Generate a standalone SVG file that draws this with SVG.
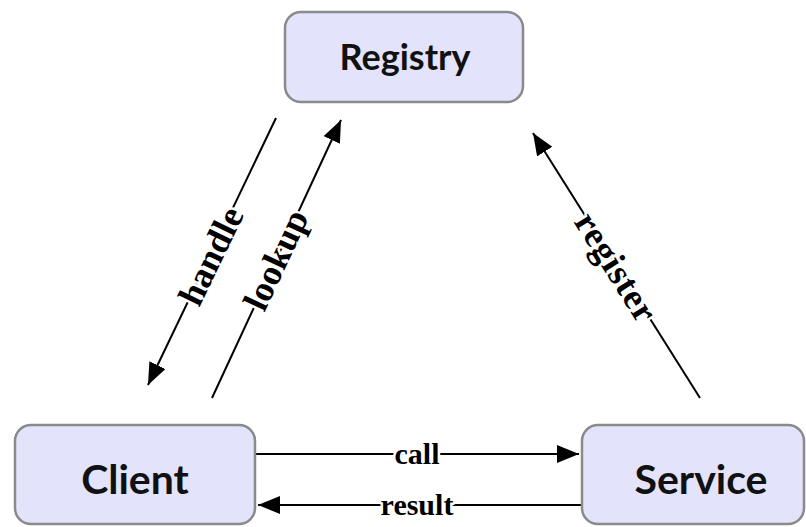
<svg xmlns="http://www.w3.org/2000/svg" width="806" height="527" viewBox="0 0 806 527">
  <style>
    .box { fill: #e3e3fb; stroke: #8a8a8a; stroke-width: 2.5; }
    .name { font-family: Lato, "Open Sans", "Liberation Sans", sans-serif; font-weight: bold; fill: #111; text-anchor: middle; }
    .wire { stroke: #000; stroke-width: 2; fill: none; }
    .lbl { font-family: "Liberation Serif", "Times New Roman", serif; font-weight: bold; fill: #000; text-anchor: middle;
           stroke: #fff; stroke-width: 5; paint-order: stroke; stroke-linejoin: round; }
  </style>
  <defs>
    <marker id="arrow" markerUnits="userSpaceOnUse" markerWidth="24" markerHeight="20" refX="22" refY="9" orient="auto">
      <path d="M0,0 L22,9 L0,18 z" fill="#000"/>
    </marker>
  </defs>
  <rect width="806" height="527" fill="#fff"/>

  <g id="connectors">
    <!-- Registry to Client -->
    <line class="wire" x1="276" y1="118" x2="148" y2="385" marker-end="url(#arrow)"/>
    <text class="lbl" font-size="36" transform="translate(211,256) rotate(-64)" dy="0.33em">handle</text>
    <!-- Client to Registry -->
    <line class="wire" x1="212" y1="398" x2="341" y2="120" marker-end="url(#arrow)"/>
    <text class="lbl" font-size="36" transform="translate(276,260) rotate(-65)" dy="0.33em">lookup</text>
    <!-- Service to Registry -->
    <line class="wire" x1="700" y1="398" x2="533" y2="133" marker-end="url(#arrow)"/>
    <text class="lbl" font-size="36" transform="translate(616,267) rotate(57.7)" dy="0.33em" textLength="122" lengthAdjust="spacing">register</text>
    <!-- Client to Service -->
    <line class="wire" x1="256" y1="454" x2="579" y2="454" marker-end="url(#arrow)"/>
    <text class="lbl" font-size="30" x="417" y="464">call</text>
    <!-- Service to Client -->
    <line class="wire" x1="581" y1="505" x2="258" y2="505" marker-end="url(#arrow)"/>
    <text class="lbl" font-size="30" x="417" y="515">result</text>
  </g>

  <g id="registry">
    <rect class="box" x="285" y="12" width="238" height="90" rx="16"/>
    <text class="name" x="405" y="70" font-size="36">Registry</text>
  </g>
  <g id="client">
    <rect class="box" x="15" y="425" width="240" height="99" rx="16"/>
    <text class="name" x="135" y="494" font-size="41">Client</text>
  </g>
  <g id="service">
    <rect class="box" x="582" y="425" width="222" height="99" rx="16"/>
    <text class="name" x="701" y="494" font-size="41">Service</text>
  </g>
</svg>
